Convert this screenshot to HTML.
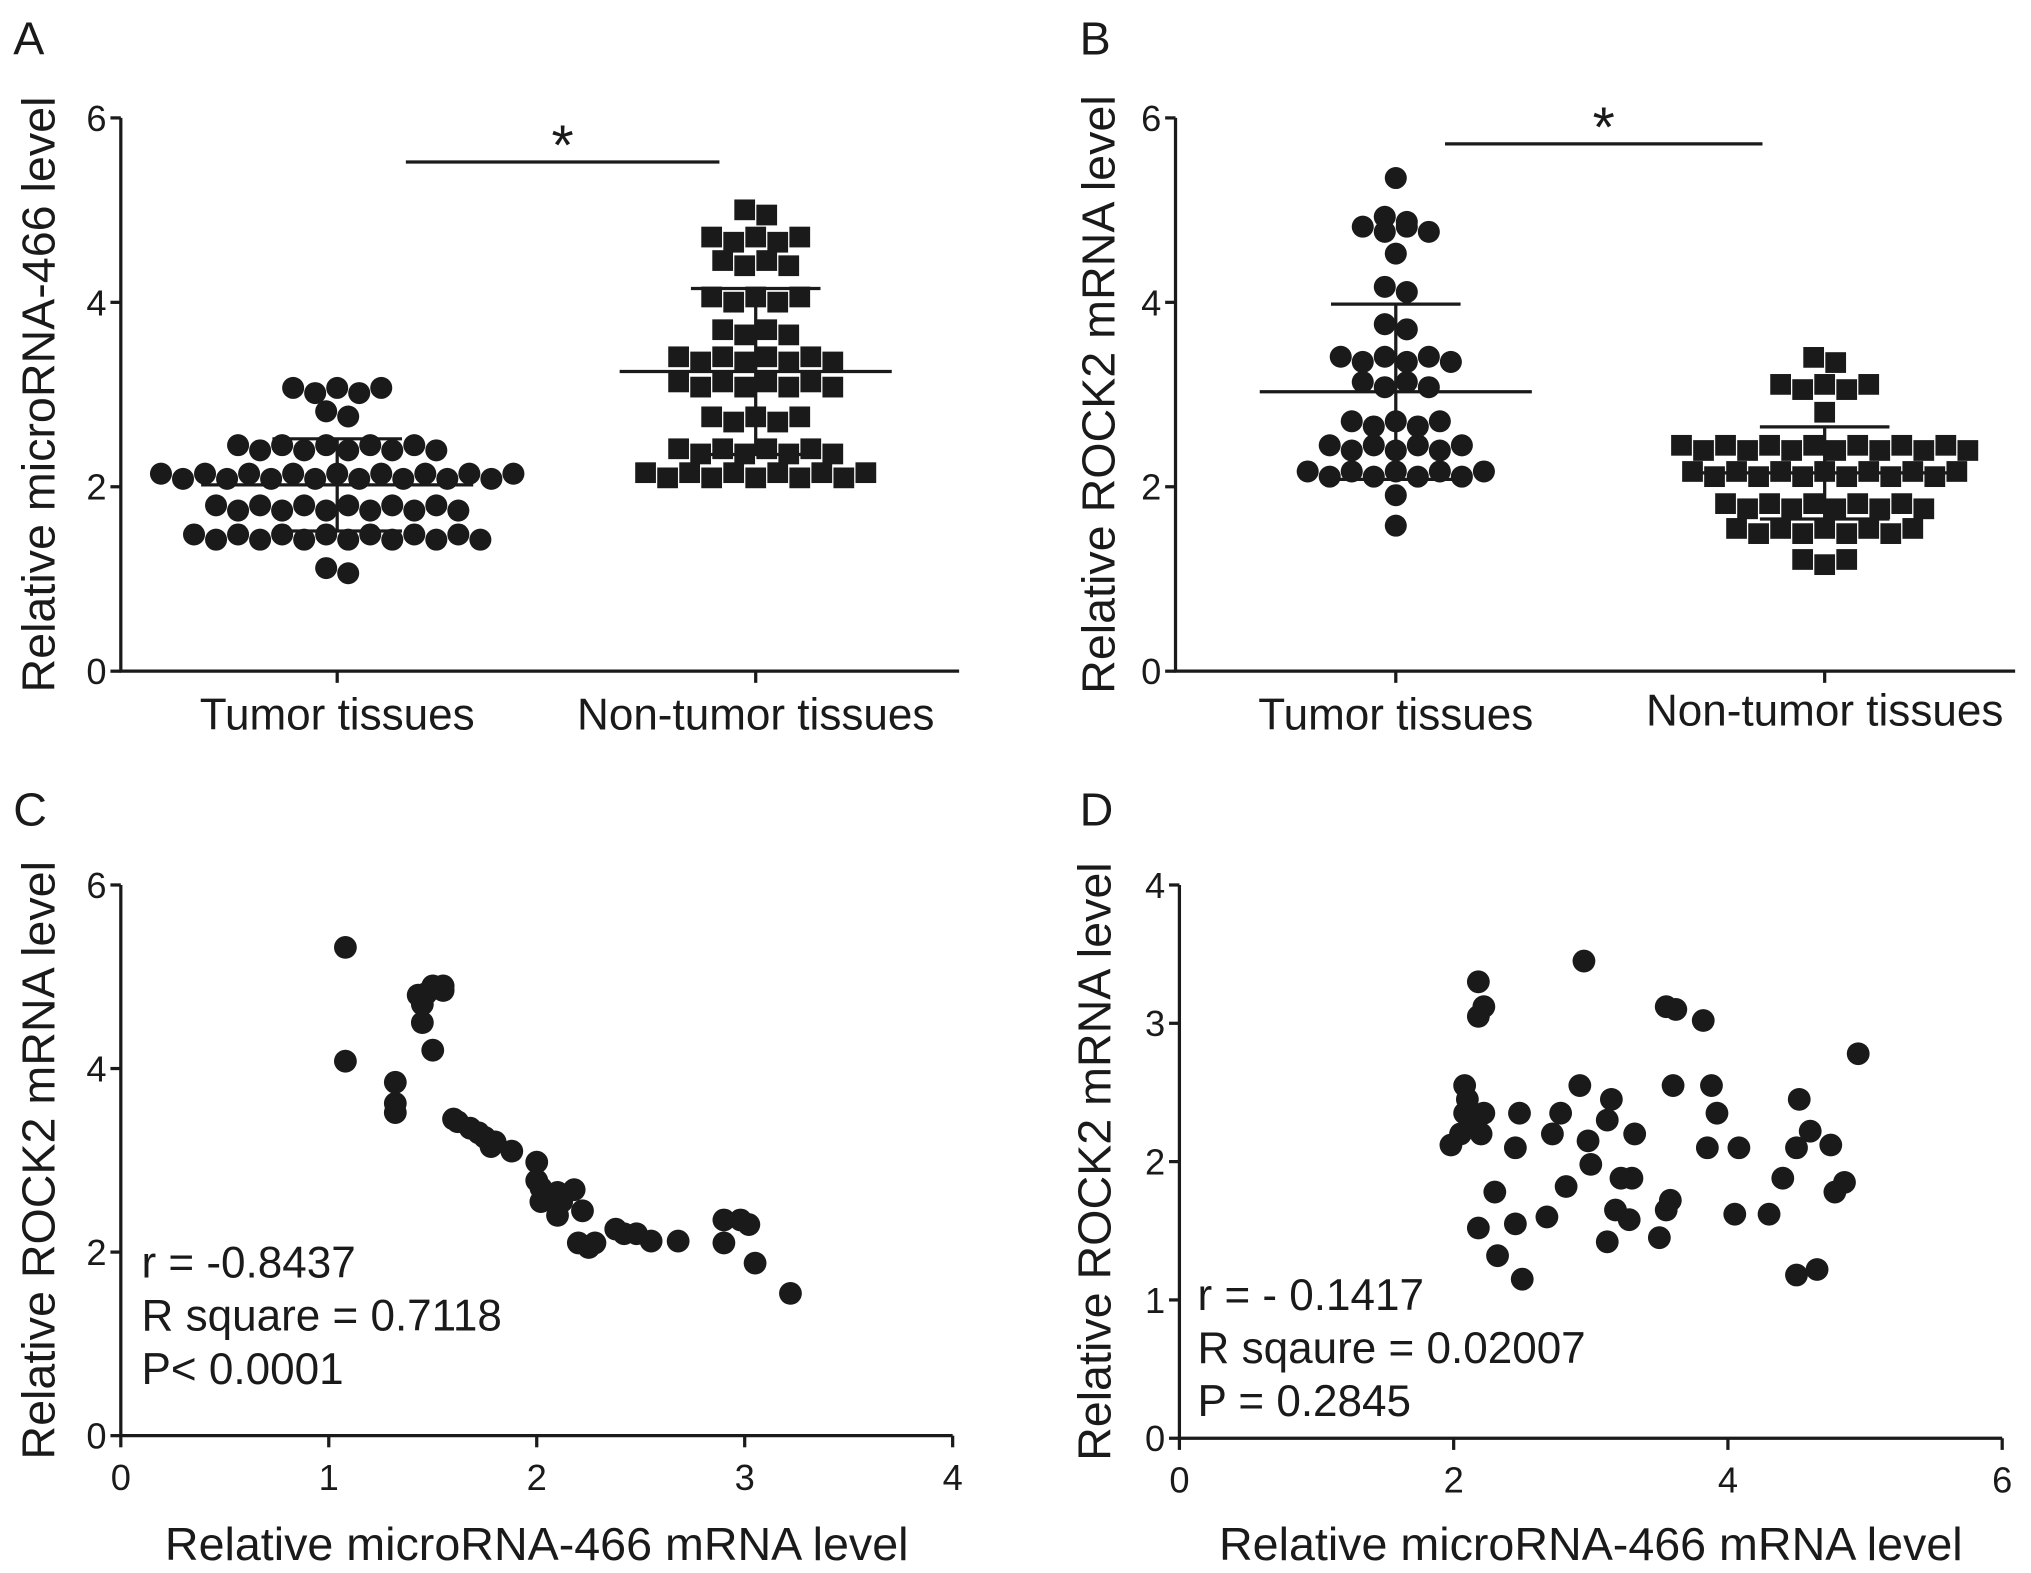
<!DOCTYPE html>
<html><head><meta charset="utf-8"><style>
html,body{margin:0;padding:0;background:#fff;}
svg{display:block;font-family:"Liberation Sans",Arial,sans-serif;}
</style></head><body>
<svg id="fig" width="2031" height="1573" viewBox="0 0 1567 1214" xmlns="http://www.w3.org/2000/svg"></svg>
<script>
// ---- Panel A data ----
const catsAB = ["Tumor tissues","Non-tumor tissues"];
const yTicks6 = [0,2,4,6];
const aTumor = [3.22,3.05,3.0,3.0,2.95,2.9,2.68,2.55,2.52,2.5,2.48,2.45,2.4,2.38,2.35,2.3,2.3,2.25,2.25,2.22,2.2,2.2,2.2,2.18,2.15,2.12,2.1,2.08,2.05,2.02,2.0,1.98,1.98,1.95,1.9,1.88,1.85,1.8,1.78,1.78,1.75,1.75,1.72,1.7,1.68,1.65,1.62,1.6,1.58,1.55,1.52,1.5,1.48,1.45,1.42,1.4,1.32,1.3,1.3,1.32,1.1,1.08];
const aNon = [5.0,4.95,4.8,4.8,4.65,4.6,4.55,4.5,4.5,4.4,4.3,4.15,4.1,4.05,3.95,3.9,3.85,3.65,3.6,3.6,3.55,3.55,3.5,3.35,3.3,3.3,3.25,3.25,3.22,3.2,3.2,3.15,3.1,3.05,3.0,2.95,2.9,2.75,2.75,2.65,2.6,2.5,2.45,2.45,2.42,2.35,2.32,2.3,2.28,2.25,2.22,2.2,2.18,2.15,2.12,2.1,2.08,2.05,2.02,2.0];
const aMeans = [2.02,3.25];
const aSD = [0.5,0.9];
// ---- Panel C data ----
const cX = [1.08,1.08,1.32,1.32,1.32,1.43,1.45,1.45,1.47,1.5,1.55,1.55,1.5,1.6,1.62,1.68,1.72,1.75,1.78,1.8,1.88,2.0,2.0,2.02,2.02,2.08,2.1,2.1,2.12,2.18,2.22,2.2,2.25,2.28,2.38,2.42,2.48,2.55,2.68,2.9,2.9,2.98,3.02,3.05,3.22];
const cY = [5.32,4.08,3.85,3.62,3.52,4.8,4.7,4.5,4.82,4.9,4.9,4.85,4.2,3.45,3.42,3.35,3.3,3.25,3.15,3.2,3.1,2.98,2.78,2.7,2.55,2.6,2.65,2.4,2.55,2.68,2.45,2.1,2.05,2.1,2.25,2.2,2.2,2.12,2.12,2.35,2.1,2.35,2.3,1.88,1.55];
const cXTicks = [0,1,2,3,4];
// ---- Panel D data ----
const dX = [1.98,2.05,2.08,2.08,2.1,2.12,2.18,2.18,2.22,2.22,2.2,2.18,2.3,2.32,2.45,2.45,2.48,2.5,2.68,2.72,2.78,2.82,2.92,2.95,2.98,3.0,3.12,3.15,3.12,3.18,3.22,3.28,3.3,3.32,3.5,3.55,3.58,3.55,3.6,3.62,3.82,3.85,3.88,3.92,4.08,4.05,4.3,4.4,4.5,4.52,4.5,4.6,4.65,4.75,4.78,4.85,4.95];
const dY = [2.12,2.2,2.35,2.55,2.45,2.3,3.3,3.05,3.12,2.35,2.2,1.52,1.78,1.32,2.1,1.55,2.35,1.15,1.6,2.2,2.35,1.82,2.55,3.45,2.15,1.98,2.3,2.45,1.42,1.65,1.88,1.58,1.88,2.2,1.45,1.65,1.72,3.12,2.55,3.1,3.02,2.1,2.55,2.35,2.1,1.62,1.62,1.88,2.1,2.45,1.18,2.22,1.22,2.12,1.78,1.85,2.78];
const dXTicks = [0,2,4,6];
const dYTicks = [0,1,2,3,4];
// ---- Panel B data ----
const bTumor = cY;
const bNon = dY;
const bMeans = [3.03,2.15];
const bSD = [0.95,0.5];

const NS="http://www.w3.org/2000/svg";
const svg=document.getElementById('fig');
const INK="#1a1a1a";
function mk(tag,attrs,parent){const e=document.createElementNS(NS,tag);for(const k in attrs)e.setAttribute(k,attrs[k]);(parent||svg).appendChild(e);return e;}
function txt(s,x,y,size,anchor,parent,extra){const t=mk('text',Object.assign({x:x,y:y,'font-size':size,'text-anchor':anchor||'start',fill:INK},extra||{}),parent);t.textContent=s;return t;}

function axesFrame(g,x0,y0,x1,yTop,yScale,ticks,yTitle,titleX){
  const ya=mk('line',{x1:x0,y1:y0,x2:x0,y2:yTop,stroke:INK,'stroke-width':2.5},g);
  
  const xa=mk('line',{x1:x0-1,y1:y0,x2:x1,y2:y0,stroke:INK,'stroke-width':2.5},g);
  
  ticks.forEach(v=>{const y=yScale(v);
    mk('line',{x1:x0-8,y1:y,x2:x0,y2:y,stroke:INK,'stroke-width':2.5},g);
    const t=txt(String(v),x0-11,y+10,28,'end',g);
    });
  const yc=(y0+yTop)/2;
  const tt=txt(yTitle,titleX,yc,36,'middle',g,{transform:`rotate(-90 ${titleX} ${yc})`});
  
}

// Prism-like row swarm: bin values into horizontal rows, spread each row centrally
function swarm(vals,cx,yScale,d,rowH){
  const rows={};
  vals.forEach(v=>{const y=yScale(v);const k=Math.round(y/rowH);(rows[k]=rows[k]||[]).push(y);});
  const out=[];
  Object.keys(rows).forEach(k=>{const ys=rows[k];const n=ys.length;const ry=ys.reduce((a,b)=>a+b,0)/n;
    ys.forEach((y,j)=>{out.push({x:cx+(j-(n-1)/2)*d,y:ry+((j%2)?2:-2)});});});
  return out;
}

function dotPanel(id,letter,ax,vals0,vals1,means,sds,yTitle,sig){
  const g=mk('g',{});
  const y0=518,yTop=91;const ys=v=>y0-(v/6)*(y0-yTop);
  const L=txt(letter,ax.letterX,42,36,'start',g);
  axesFrame(g,ax.x0,y0,ax.x1,yTop,ys,yTicks6,yTitle,ax.titleX);
  catsAB.forEach((c,i)=>{const cx=ax.cats[i];
    mk('line',{x1:cx,y1:y0,x2:cx,y2:y0+9,stroke:INK,'stroke-width':2.5},g);
    const t=txt(c,cx,ax.catY[i],34,'middle',g);});
  [vals0,vals1].forEach((vals,i)=>{const cx=ax.cats[i];
    swarm(vals,cx,ys,17,23).forEach(p=>{let e;
      if(i===0){e=mk('circle',{cx:p.x,cy:p.y,r:8.5,fill:INK},g);}
      else{e=mk('rect',{x:p.x-8,y:p.y-8,width:16,height:16,fill:INK},g);}
      });
    const m=ys(means[i]),hi=ys(means[i]+sds[i]),lo=ys(means[i]-sds[i]);
    const ml=mk('line',{x1:cx-105,y1:m,x2:cx+105,y2:m,stroke:INK,'stroke-width':2.5},g);
    
    const eb=mk('path',{d:`M${cx},${hi}V${lo}M${cx-50},${hi}H${cx+50}M${cx-50},${lo}H${cx+50}`,stroke:INK,'stroke-width':2.5,fill:'none'},g);
    });
  const sl=mk('line',{x1:sig.x1,y1:sig.y,x2:sig.x2,y2:sig.y,stroke:INK,'stroke-width':2.5},g);
  
  const st=txt('*',(sig.x1+sig.x2)/2,sig.y+2,44,'middle',g);
}

dotPanel('panel-a','A',{letterX:10,x0:93,x1:740,cats:[260,583],catY:[563,563],titleX:42},aTumor,aNon,aMeans,aSD,'Relative microRNA-466 level',{x1:313,x2:555,y:125});
dotPanel('panel-b','B',{letterX:833,x0:907,x1:1555,cats:[1077,1408],catY:[563,560],titleX:860},bTumor,bNon,bMeans,bSD,'Relative ROCK2 mRNA level',{x1:1115,x2:1360,y:111});

function scatterPanel(id,letter,o,xs,ys,xTicks,yTicks,xMax,yMax,stats){
  const g=mk('g',{});
  const X=v=>o.x0+(v/xMax)*(o.x1-o.x0);const Y=v=>o.y0-(v/yMax)*(o.y0-o.yTop);
  const L=txt(letter,o.letterX,637,36,'start',g);
  axesFrame(g,o.x0,o.y0,o.x1,o.yTop,Y,yTicks,'Relative ROCK2 mRNA level',o.titleX);
  xTicks.forEach(v=>{const x=X(v);mk('line',{x1:x,y1:o.y0,x2:x,y2:o.y0+9,stroke:INK,'stroke-width':2.5},g);
    const t=txt(String(v),x,o.y0+42,28,'middle',g);});
  const xt=txt('Relative microRNA-466 mRNA level',(o.x0+o.x1)/2,1204,36,'middle',g);
  
  xs.forEach((v,i)=>{const c=mk('circle',{cx:X(v),cy:Y(ys[i]),r:8.8,fill:INK},g);
    });
  stats.forEach((s,i)=>{const t=txt(s,o.statX,o.statY+i*41,34,'start',g);
    });
}
scatterPanel('panel-c','C',{letterX:10,x0:93,x1:735,y0:1108,yTop:683,titleX:42,statX:109,statY:986},cX,cY,cXTicks,yTicks6,4,6,['r = -0.8437','R square = 0.7118','P< 0.0001']);
scatterPanel('panel-d','D',{letterX:833,x0:910,x1:1545,y0:1110,yTop:683,titleX:857,statX:924,statY:1011},dX,dY,dXTicks,dYTicks,6,4,['r = - 0.1417','R sqaure = 0.02007','P = 0.2845']);
</script>
</body></html>
